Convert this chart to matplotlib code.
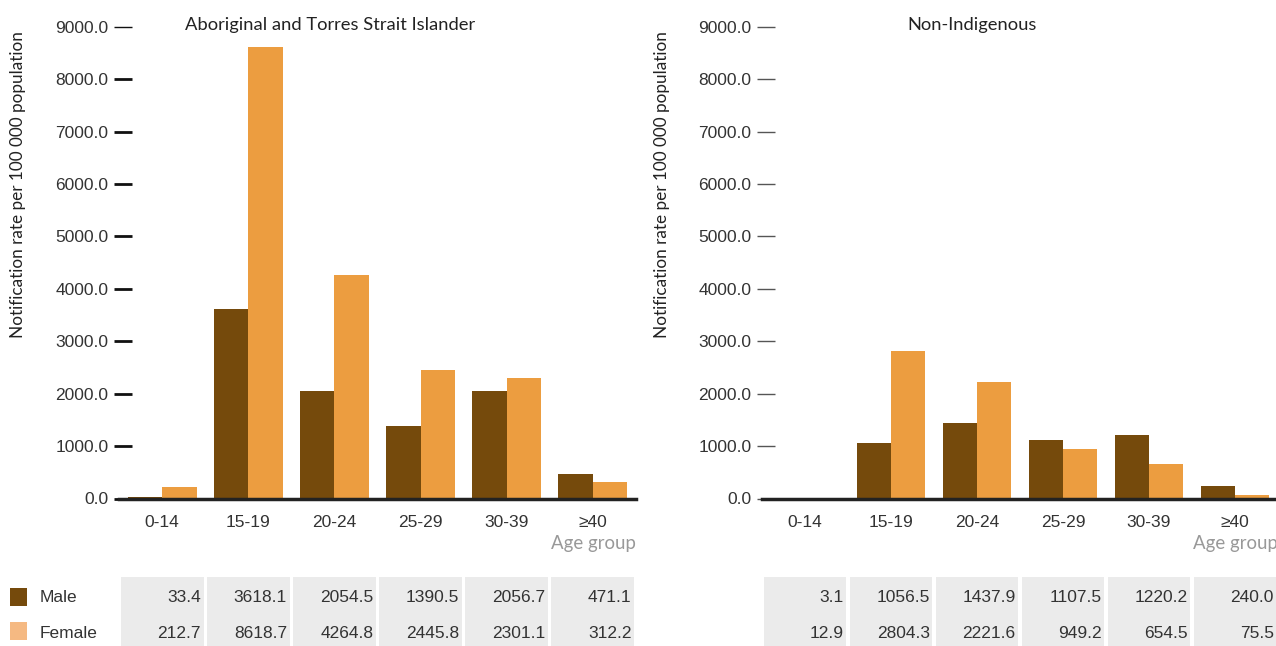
import matplotlib
matplotlib.use("Agg")
import matplotlib.pyplot as plt
from matplotlib.patches import Rectangle
from matplotlib.transforms import blended_transform_factory
import numpy as np

# data
age_groups = ["0-14", "15-19", "20-24", "25-29", "30-39", "\u226540"]
indig_male = [33.4, 3618.1, 2054.5, 1390.5, 2056.7, 471.1]
indig_female = [212.7, 8618.7, 4264.8, 2445.8, 2301.1, 312.2]
nonind_male = [3.1, 1056.5, 1437.9, 1107.5, 1220.2, 240.0]
nonind_female = [12.9, 2804.3, 2221.6, 949.2, 654.5, 75.5]
yticks = np.arange(0, 9001, 1000)

MALE = "#754a0c"
FEMALE = "#ec9d40"
FEMALE_LEG = "#f5b982"
CELL = "#ebebeb"
W, H = 1276, 646

fig = plt.figure(figsize=(W / 100, H / 100), dpi=100)


def px_rect(x0, y0, x1, y1):
    return [x0 / W, 1 - y1 / H, (x1 - x0) / W, (y1 - y0) / H]


def panel(x0, x1, male, female, title, title_x, ylab_x, strong_ticks):
    ax = fig.add_axes(px_rect(x0, 26.7, x1, 498.5))
    x = np.arange(len(age_groups))
    ax.bar(x - 0.2, male, width=0.4, color=MALE, zorder=2)
    ax.bar(x + 0.2, female, width=0.4, color=FEMALE, zorder=2)
    ax.set_xlim(-0.5, 5.5)
    ax.set_ylim(0, 9000)
    for s in ["top", "right", "left"]:
        ax.spines[s].set_visible(False)
    ax.spines["bottom"].set_color("#222222")
    ax.spines["bottom"].set_linewidth(2.5)
    ax.spines["bottom"].set_zorder(3)
    ax.spines["left"].set_position(("axes", 0.008))

    ax.set_yticks(yticks)
    ax.set_yticklabels(["%.1f" % v for v in yticks], fontsize=12.5,
                       color="#333333", family="Liberation Sans")
    if strong_ticks:
        ax.tick_params(axis="y", direction="inout", length=13, width=2,
                       color="#111111", pad=4)
        top = ax.yaxis.get_major_ticks()[-1]
        top.tick1line.set_color("#777777")
        top.tick1line.set_markeredgewidth(1)
    else:
        ax.tick_params(axis="y", direction="inout", length=13, width=1,
                       color="#555555", pad=4)

    ax.set_xticks(x)
    ax.set_xticklabels(age_groups, fontsize=12.5, color="#333333",
                       family="Liberation Sans")
    ax.tick_params(axis="x", length=0, pad=12)

    ax.text(1.0, -0.077, "Age group", transform=ax.transAxes, ha="right",
            va="top", fontsize=13.4, color="#999999", family="Lato")

    fig.text(title_x / W, 1 - 25 / H, title, ha="center", va="center",
             fontsize=13.2, color="#222222", family="Lato")
    fig.text(ylab_x / W, 1 - 185 / H,
             "Notification rate per 100 000 population", rotation=90,
             ha="center", va="center", fontsize=12.3, color="#222222",
             family="Lato")

    # data table under the chart
    tr = blended_transform_factory(ax.transData, fig.transFigure)
    gap = 0.018
    for i in range(len(age_groups)):
        ax.add_patch(Rectangle((i - 0.5 + gap, 0), 1 - 2 * gap, 1 - 577 / H,
                               transform=tr, facecolor=CELL,
                               edgecolor="none", clip_on=False))
        ax.text(i + 0.45, 1 - 597 / H, "%.1f" % male[i], transform=tr,
                ha="right", va="center", fontsize=12.5, color="#333333",
                family="Liberation Sans")
        ax.text(i + 0.45, 1 - 633 / H, "%.1f" % female[i], transform=tr,
                ha="right", va="center", fontsize=12.5, color="#333333",
                family="Liberation Sans")
    return ax


panel(119, 636, indig_male, indig_female,
      "Aboriginal and Torres Strait Islander", 330, 18, True)
panel(762, 1278, nonind_male, nonind_female, "Non-Indigenous", 972, 662, False)

# legend at bottom left
for y0, col, lab, ty in [(588, MALE, "Male", 597), (622, FEMALE_LEG, "Female", 633)]:
    fig.add_artist(Rectangle((10 / W, 1 - (y0 + 18) / H), 17 / W, 18 / H,
                             transform=fig.transFigure, facecolor=col,
                             edgecolor="none"))
    fig.text(40 / W, 1 - ty / H, lab, ha="left", va="center", fontsize=12.5,
             color="#333333", family="Liberation Sans")

fig.savefig("out.png", dpi=100)
